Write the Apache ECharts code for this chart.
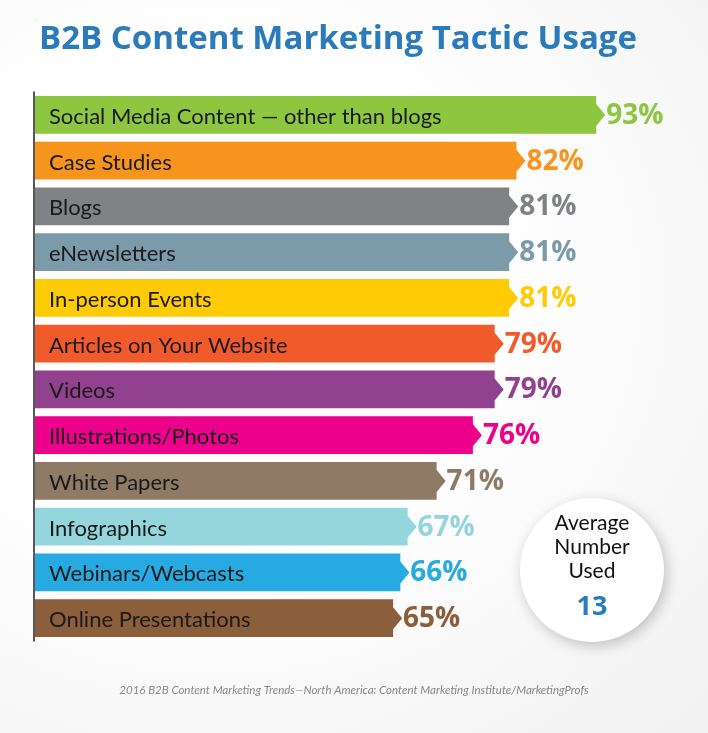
<!DOCTYPE html>
<html>
<head>
<meta charset="utf-8">
<script src="https://cdn.jsdelivr.net/npm/echarts@6/dist/echarts.min.js"></script>
<style>
  html, body { margin: 0; padding: 0; }
  #chart { width: 708px; height: 733px; background: radial-gradient(ellipse at 30% 40%, #ffffff 40%, #f1f1f1 100%); }
</style>
</head>
<body>
<div id="chart"></div>
<script>
var categories = ['Social Media Content — other than blogs', 'Case Studies', 'Blogs', 'eNewsletters',
  'In-person Events', 'Articles on Your Website', 'Videos', 'Illustrations/Photos', 'White Papers',
  'Infographics', 'Webinars/Webcasts', 'Online Presentations'];
var values = [93, 82, 81, 81, 81, 79, 79, 76, 71, 67, 66, 65];
var colors = ['#8dc63f', '#f7941d', '#808285', '#7b9bab', '#ffcb05', '#f15a2b', '#92418f',
  '#ec008c', '#8f7a66', '#95d5dc', '#27aae1', '#8b5e3c'];
var axisMin = 15.5;

var chart = echarts.init(document.getElementById('chart'));

var option = {
  title: {
    text: 'B2B Content Marketing Tactic Usage',
    left: 34, top: 18,
    textStyle: { fontFamily: 'Open Sans', fontWeight: 'bold', fontSize: 33, color: '#2b7bbb' }
  },
  graphic: [
    {
      type: 'circle', shape: { cx: 592, cy: 570, r: 72 },
      style: { fill: '#ffffff', shadowBlur: 14, shadowColor: 'rgba(0,0,0,0.22)', shadowOffsetX: 3, shadowOffsetY: 4 }
    },
    {
      type: 'text', x: 592, y: 547,
      style: { text: 'Average\nNumber\nUsed', align: 'center', verticalAlign: 'middle', fontFamily: 'Lato',
        fontSize: 21, lineHeight: 24, fill: '#111' }
    },
    {
      type: 'text', x: 592, y: 607,
      style: { text: '13', align: 'center', verticalAlign: 'middle', fontFamily: 'Open Sans',
        fontWeight: 'bold', fontSize: 27, fill: '#2b7bbb' }
    },
    {
      type: 'text', x: 354, y: 690,
      style: { text: '2016 B2B Content Marketing Trends—North America: Content Marketing Institute/MarketingProfs',
        align: 'center', verticalAlign: 'middle', fontFamily: 'Lato', fontStyle: 'italic', fontSize: 11.5, fill: '#888' }
    }
  ],
  grid: { left: 34, right: 61, top: 92, bottom: 92 },
  xAxis: { type: 'value', min: axisMin, max: 100, show: false },
  yAxis: {
    type: 'category', data: categories, inverse: true,
    axisLine: { show: true, lineStyle: { color: '#222', width: 1.5 } },
    axisTick: { show: false }, axisLabel: { show: false }
  },
  series: [{
    type: 'custom',
    data: values.map(function (v, i) { return [v, i]; }),
    encode: { x: 0, y: 1 },
    renderItem: function (params, api) {
      var i = api.value(1), v = api.value(0);
      var start = api.coord([axisMin, i]);
      var end = api.coord([v, i]);
      var h = api.size([0, 1])[1] * 0.83;
      var x0 = start[0] + 1, x1 = end[0], y = end[1];
      var top = y - h / 2, bot = y + h / 2;
      return {
        type: 'group',
        children: [
          {
            type: 'polygon',
            shape: { points: [[x0, top], [x1, top], [x1, y - 11], [x1 + 9, y], [x1, y + 11], [x1, bot], [x0, bot]] },
            style: { fill: colors[i] }
          },
          {
            type: 'text', x: x0 + 14, y: y + 2,
            style: { text: categories[i], verticalAlign: 'middle', fontFamily: 'Lato', fontSize: 22, fill: '#1a1a1a' }
          },
          {
            type: 'text', x: x1 + 10, y: y + 1,
            style: { text: v + '%', verticalAlign: 'middle', fontFamily: 'Open Sans', fontWeight: 'bold', fontSize: 28, fill: colors[i] }
          }
        ]
      };
    }
  }]
};

chart.setOption(option);
</script>
</body>
</html>
